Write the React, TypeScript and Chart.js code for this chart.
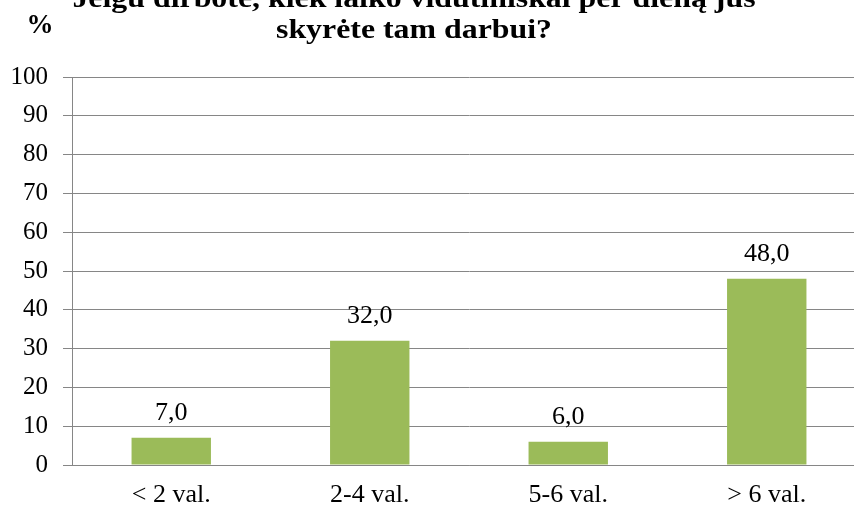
import React, { useEffect, useRef } from "react";
import { Chart, registerables } from "chart.js";

Chart.register(...registerables);

const categories = ["< 2 val.", "2-4 val.", "5-6 val.", "> 6 val."];
const values = [7.0, 32.0, 6.0, 48.0];
const titleLines = ["Jeigu dirbote, kiek laiko vidutiniškai per dieną jūs", "skyrėte tam darbui?"];
const unitLabel = "%";

const FONT = "'Liberation Serif', 'Times New Roman', serif";

const overlayPlugin = {
  id: "overlay",
  afterDatasetsDraw(chart: any) {
    const ctx = chart.ctx;
    ctx.save();
    // value labels
    const meta = chart.getDatasetMeta(0);
    ctx.font = `26px ${FONT}`;
    ctx.fillStyle = "#000";
    ctx.textAlign = "center";
    ctx.textBaseline = "alphabetic";
    meta.data.forEach((bar: any, i: number) => {
      const txt = values[i].toFixed(1).replace(".", ",");
      ctx.fillText(txt, bar.x, bar.y - 18);
    });
    // title (horizontally stretched like the source)
    ctx.font = `bold 28px ${FONT}`;
    const w2 = ctx.measureText(titleLines[1]).width;
    const sx = 276 / w2;
    ctx.save();
    ctx.translate(414, 0);
    ctx.scale(sx, 1);
    ctx.fillText(titleLines[0], 0, 7);
    ctx.fillText(titleLines[1], 0, 38);
    ctx.restore();
    // unit
    ctx.font = `bold 27px ${FONT}`;
    ctx.fillText(unitLabel, 40, 33);
    ctx.restore();
  },
};

export default function App() {
  const ref = useRef<HTMLCanvasElement>(null);
  useEffect(() => {
    if (!ref.current) return;
    const chart = new Chart(ref.current, {
      type: "bar",
      data: {
        labels: categories,
        datasets: [
          {
            data: values,
            backgroundColor: "#9BBB59",
            borderWidth: 0,
            categoryPercentage: 1,
            barPercentage: 0.4,
          },
        ],
      },
      options: {
        responsive: false,
        animation: false,
        devicePixelRatio: 1,
        layout: { padding: { top: 77, left: 0, right: 0, bottom: 0 } },
        plugins: { legend: { display: false }, title: { display: false }, tooltip: { enabled: false } },
        scales: {
          x: {
            grid: { display: false, drawTicks: false },
            border: { color: "#868686", width: 1 },
            ticks: { color: "#000", font: { family: FONT, size: 26 }, padding: 15 },
            afterFit: (s: any) => {
              s.height = 41;
            },
          },
          y: {
            min: 0,
            max: 100,
            ticks: { stepSize: 10, color: "#000", font: { family: FONT, size: 25 }, padding: 15 },
            grid: { color: "#868686", lineWidth: 1, tickLength: 9 },
            border: { color: "#868686", width: 1 },
            afterFit: (s: any) => {
              s.width = 72;
            },
          },
        },
      },
      plugins: [overlayPlugin],
    });
    return () => chart.destroy();
  }, []);
  return (
    <div style={{ position: "fixed", left: 0, top: 0, width: 854, height: 506, overflow: "hidden", background: "#fff" }}>
      <canvas ref={ref} width={866} height={506} style={{ width: 866, height: 506, display: "block" }} />
    </div>
  );
}
